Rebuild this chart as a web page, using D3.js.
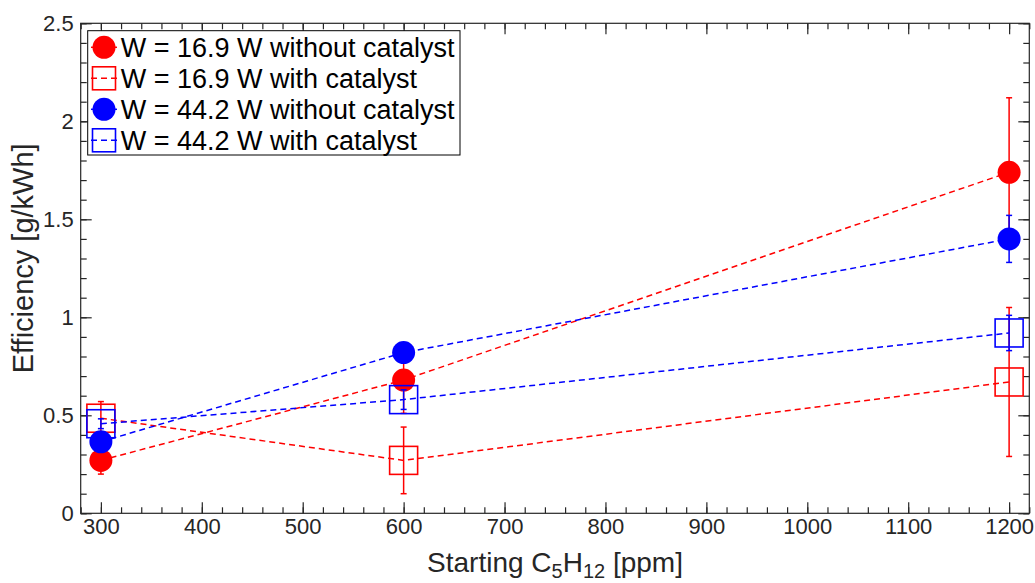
<!DOCTYPE html>
<html>
<head>
<meta charset="utf-8">
<script src="https://cdn.jsdelivr.net/npm/d3@7"></script>
<style>
  body { margin: 0; background: #fff; }
  text { font-family: "Liberation Sans", Arial, Helvetica, sans-serif; }
</style>
</head>
<body>
<div id="container"></div>
<script>
// data
const concentrations = [300, 600, 1200];

const red169Without = [0.27, 0.68, 1.74];
const red169WithoutErr = [0.07, 0.17, 0.38];
const red169With = [0.485, 0.27, 0.67];
const red169WithErr = [0.085, 0.17, 0.38];
const blue442Without = [0.365, 0.82, 1.40];
const blue442WithoutErr = [0.05, 0.04, 0.12];
const blue442With = [0.457, 0.58, 0.92];
const blue442WithErr = [0.025, 0.05, 0.09];

const seriesNames = [
  'W = 16.9 W without catalyst',
  'W = 16.9 W with catalyst',
  'W = 44.2 W without catalyst',
  'W = 44.2 W with catalyst'
];

const xMajor = [300, 400, 500, 600, 700, 800, 900, 1000, 1100, 1200];
const yMajor = [0, 0.5, 1, 1.5, 2, 2.5];

const width = 1035, height = 583;

const series = [
  { name: seriesNames[0], vals: red169Without, err: red169WithoutErr, color: '#ff0000', shape: 'circle' },
  { name: seriesNames[1], vals: red169With, err: red169WithErr, color: '#ff0000', shape: 'square' },
  { name: seriesNames[2], vals: blue442Without, err: blue442WithoutErr, color: '#0000ff', shape: 'circle' },
  { name: seriesNames[3], vals: blue442With, err: blue442WithErr, color: '#0000ff', shape: 'square' }
];

const svg = d3.select('#container')
  .append('svg')
  .attr('width', width)
  .attr('height', height);

// scales
const x = d3.scaleLinear().domain([280, 1220]).range([80.7, 1029.3]);
const y = d3.scaleLinear().domain([0, 2.5]).range([513.3, 23.3]);

const xMinor = d3.range(280, 1221, 20);
const yMinor = d3.range(0, 26).map(d => d / 10);

const axisColor = '#262626';

function styleAxis(g) {
  g.select('.domain').remove();
  g.selectAll('line').attr('stroke', axisColor).attr('stroke-width', 1.2);
  g.selectAll('text')
    .attr('fill', axisColor)
    .style('font-size', '22px');
}

// minor ticks, all four sides
svg.append('g').attr('transform', `translate(0,${y(0)})`)
  .call(d3.axisBottom(x).tickValues(xMinor).tickSizeInner(-6).tickSizeOuter(0).tickFormat(''))
  .call(styleAxis);
svg.append('g').attr('transform', `translate(0,${y(2.5)})`)
  .call(d3.axisTop(x).tickValues(xMinor).tickSizeInner(-6).tickSizeOuter(0).tickFormat(''))
  .call(styleAxis);
svg.append('g').attr('transform', `translate(${x(280)},0)`)
  .call(d3.axisLeft(y).tickValues(yMinor).tickSizeInner(-6).tickSizeOuter(0).tickFormat(''))
  .call(styleAxis);
svg.append('g').attr('transform', `translate(${x(1220)},0)`)
  .call(d3.axisRight(y).tickValues(yMinor).tickSizeInner(-6).tickSizeOuter(0).tickFormat(''))
  .call(styleAxis);

// major ticks
svg.append('g').attr('transform', `translate(0,${y(0)})`)
  .call(d3.axisBottom(x).tickValues(xMajor).tickSizeInner(-11).tickSizeOuter(0).tickPadding(5).tickFormat(d3.format('d')))
  .call(styleAxis);
svg.append('g').attr('transform', `translate(0,${y(2.5)})`)
  .call(d3.axisTop(x).tickValues(xMajor).tickSizeInner(-11).tickSizeOuter(0).tickFormat(''))
  .call(styleAxis);
svg.append('g').attr('transform', `translate(${x(280)},0)`)
  .call(d3.axisLeft(y).tickValues(yMajor).tickSizeInner(-11).tickSizeOuter(0).tickPadding(7).tickFormat(d => d))
  .call(styleAxis);
svg.append('g').attr('transform', `translate(${x(1220)},0)`)
  .call(d3.axisRight(y).tickValues(yMajor).tickSizeInner(-11).tickSizeOuter(0).tickFormat(''))
  .call(styleAxis);

// box
svg.append('rect')
  .attr('x', x(280)).attr('y', y(2.5))
  .attr('width', x(1220) - x(280)).attr('height', y(0) - y(2.5))
  .attr('fill', 'none').attr('stroke', axisColor).attr('stroke-width', 1.2);

// axis labels
const xLabel = svg.append('text')
  .attr('x', (x(280) + x(1220)) / 2)
  .attr('y', 572)
  .attr('text-anchor', 'middle')
  .attr('fill', axisColor)
  .style('font-size', '28px');
xLabel.append('tspan').text('Starting C');
xLabel.append('tspan').attr('dy', 6).style('font-size', '20px').text('5');
xLabel.append('tspan').attr('dy', -6).text('H');
xLabel.append('tspan').attr('dy', 6).style('font-size', '20px').text('12');
xLabel.append('tspan').attr('dy', -6).text(' [ppm]');

svg.append('text')
  .attr('transform', `translate(33,${(y(0) + y(2.5)) / 2 - 10}) rotate(-90)`)
  .attr('text-anchor', 'middle')
  .attr('fill', axisColor)
  .style('font-size', '29px')
  .text('Efficiency [g/kWh]');

// series
const line = d3.line()
  .x((d, i) => x(concentrations[i]))
  .y(d => y(d));

function drawMarker(g, shape, color, cx, cy, big) {
  if (shape === 'circle') {
    g.append('circle')
      .attr('cx', cx).attr('cy', cy).attr('r', 11.5)
      .attr('fill', color);
  } else {
    const s = big ? 28 : 23;
    g.append('rect')
      .attr('x', cx - s / 2).attr('y', cy - s / 2)
      .attr('width', s).attr('height', s)
      .attr('fill', 'none')
      .attr('stroke', color).attr('stroke-width', 1.6);
  }
}

series.forEach(s => {
  const g = svg.append('g');

  g.append('path')
    .attr('d', line(s.vals))
    .attr('fill', 'none')
    .attr('stroke', s.color)
    .attr('stroke-width', 1.5)
    .attr('stroke-dasharray', '6,4');

  s.vals.forEach((v, i) => {
    const cx = x(concentrations[i]);
    const top = y(v + s.err[i]);
    const bot = y(v - s.err[i]);
    g.append('line')
      .attr('x1', cx).attr('x2', cx).attr('y1', top).attr('y2', bot)
      .attr('stroke', s.color).attr('stroke-width', 1.5);
    [top, bot].forEach(yy => {
      g.append('line')
        .attr('x1', cx - 3).attr('x2', cx + 3).attr('y1', yy).attr('y2', yy)
        .attr('stroke', s.color).attr('stroke-width', 1.5);
    });
    drawMarker(g, s.shape, s.color, cx, y(v), true);
  });
});

// legend
const legend = svg.append('g');
legend.append('rect')
  .attr('x', 87.7).attr('y', 30.7)
  .attr('width', 372.3).attr('height', 124.3)
  .attr('fill', '#fff')
  .attr('stroke', '#000').attr('stroke-width', 1);

series.forEach((s, i) => {
  const cy = 47.3 + i * 31;
  legend.append('line')
    .attr('x1', 91).attr('x2', 117).attr('y1', cy).attr('y2', cy)
    .attr('stroke', s.color).attr('stroke-width', 1.5)
    .attr('stroke-dasharray', s.shape === 'square' ? '6,4' : null);
  drawMarker(legend, s.shape, s.color, 104, cy, false);
  legend.append('text')
    .attr('x', 120.7).attr('y', cy)
    .attr('dy', '0.36em')
    .attr('fill', '#000')
    .style('font-size', '27px')
    .text(s.name);
});
</script>
</body>
</html>
